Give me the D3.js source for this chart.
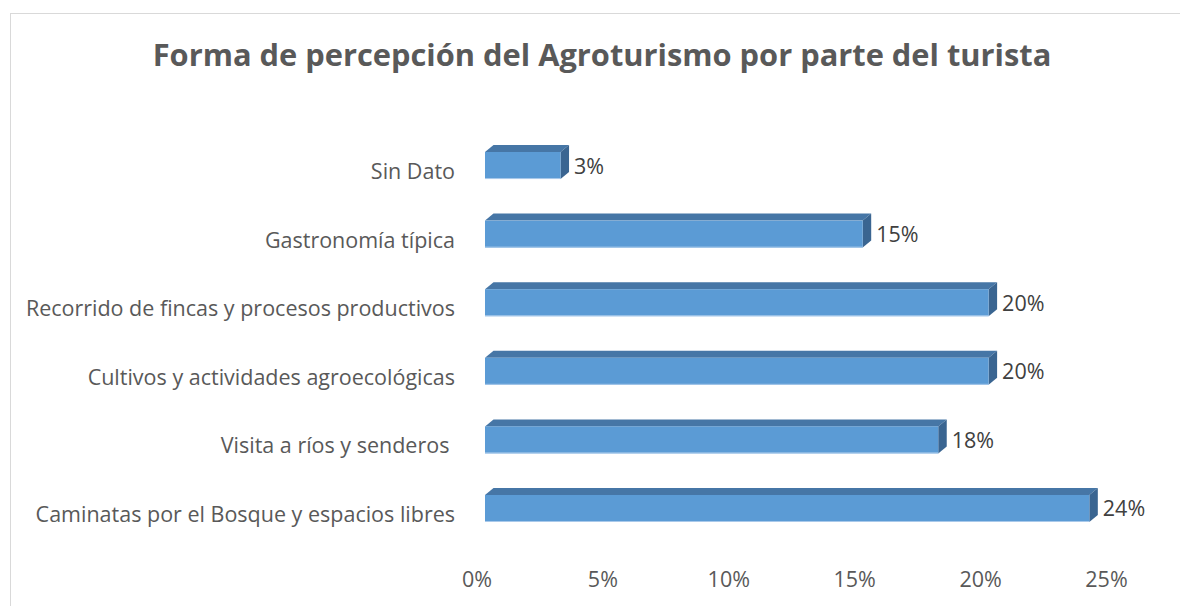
<!DOCTYPE html>
<html><head><meta charset="utf-8">
<script src="https://cdn.jsdelivr.net/npm/d3@7"></script>
<style>html,body{margin:0;padding:0;background:#fff;}svg{display:block;}</style>
</head><body>
<svg id="chart" width="1180" height="606"></svg>
<script>
const categories = ["Sin Dato", "Gastronomía típica", "Recorrido de fincas y procesos productivos", "Cultivos y actividades agroecológicas", "Visita a ríos y senderos ", "Caminatas por el Bosque y espacios libres"];
const values = [3, 15, 20, 20, 18, 24];
const valueLabels = ["3%", "15%", "20%", "20%", "18%", "24%"];
const tickValues = [0, 5, 10, 15, 20, 25];
const tickLabels = ["0%", "5%", "10%", "15%", "20%", "25%"];
const title = "Forma de percepción del Agroturismo por parte del turista";

const svg = d3.select("#chart");
const font = "'Open Sans', sans-serif";
const txt = "#595959";

svg.append("rect").attr("x", 10.5).attr("y", 13.5).attr("width", 1200).attr("height", 620)
  .attr("fill", "#fff").attr("stroke", "#d9d9d9").attr("stroke-width", 1);

const t = svg.append("text").attr("x", 602).attr("y", 66).attr("text-anchor", "middle")
  .attr("font-family", font).attr("font-weight", "bold").attr("font-size", 31)
  .attr("fill", txt).text(title);
// fit to reference width
const tw = t.node().getComputedTextLength();
if (tw > 0) t.attr("font-size", 31 * 899 / tw);

const x = d3.scaleLinear().domain([0, 25]).range([485, 1114.5]);
const y = d3.scaleBand().domain(categories).range([152, 522]).paddingInner(0.606).paddingOuter(0);
const dx = 8.5, dy = -7;

const data = categories.map((c, i) => ({c, v: values[i], l: valueLabels[i]}));
const g = svg.append("g");
const bars = g.selectAll("g.bar").data(data).enter().append("g").attr("class", "bar");

bars.append("path").attr("fill", "#4676a6").attr("d", d => {
  const x0 = x(0), x1 = x(d.v), y0 = y(d.c);
  return `M${x0},${y0}L${x0+dx},${y0+dy}L${x1+dx},${y0+dy}L${x1},${y0}Z`;
});
bars.append("path").attr("fill", "#3a6591").attr("d", d => {
  const x1 = x(d.v), y0 = y(d.c), y1 = y0 + y.bandwidth();
  return `M${x1},${y0}L${x1+dx},${y0+dy}L${x1+dx},${y1+dy}L${x1},${y1}Z`;
});
bars.append("rect").attr("fill", "#5b9bd5")
  .attr("x", x(0)).attr("y", d => y(d.c))
  .attr("width", d => x(d.v) - x(0)).attr("height", y.bandwidth());
bars.append("line").attr("stroke", "#a9c9ea").attr("stroke-width", 1)
  .attr("x1", x(0)).attr("x2", d => x(d.v))
  .attr("y1", d => y(d.c) + y.bandwidth() - 0.5).attr("y2", d => y(d.c) + y.bandwidth() - 0.5);

const fs = 21.5;
bars.append("text").attr("x", d => x(d.v) + dx + 5).attr("y", d => y(d.c) + y.bandwidth() / 2 + 8)
  .attr("font-family", font).attr("font-size", fs).attr("fill", "#404040").text(d => d.l);

g.selectAll("text.cat").data(categories).enter().append("text").attr("class", "cat")
  .attr("x", 455).attr("y", d => y(d) + y.bandwidth())
  .attr("text-anchor", "end").attr("font-family", font).attr("font-size", fs)
  .attr("fill", txt).style("white-space", "pre").text(d => d);

g.selectAll("text.tick").data(tickValues).enter().append("text").attr("class", "tick")
  .attr("x", d => x(d) - 8).attr("y", 587).attr("text-anchor", "middle")
  .attr("font-family", font).attr("font-size", fs).attr("fill", txt)
  .text((d, i) => tickLabels[i]);
</script>
</body></html>
